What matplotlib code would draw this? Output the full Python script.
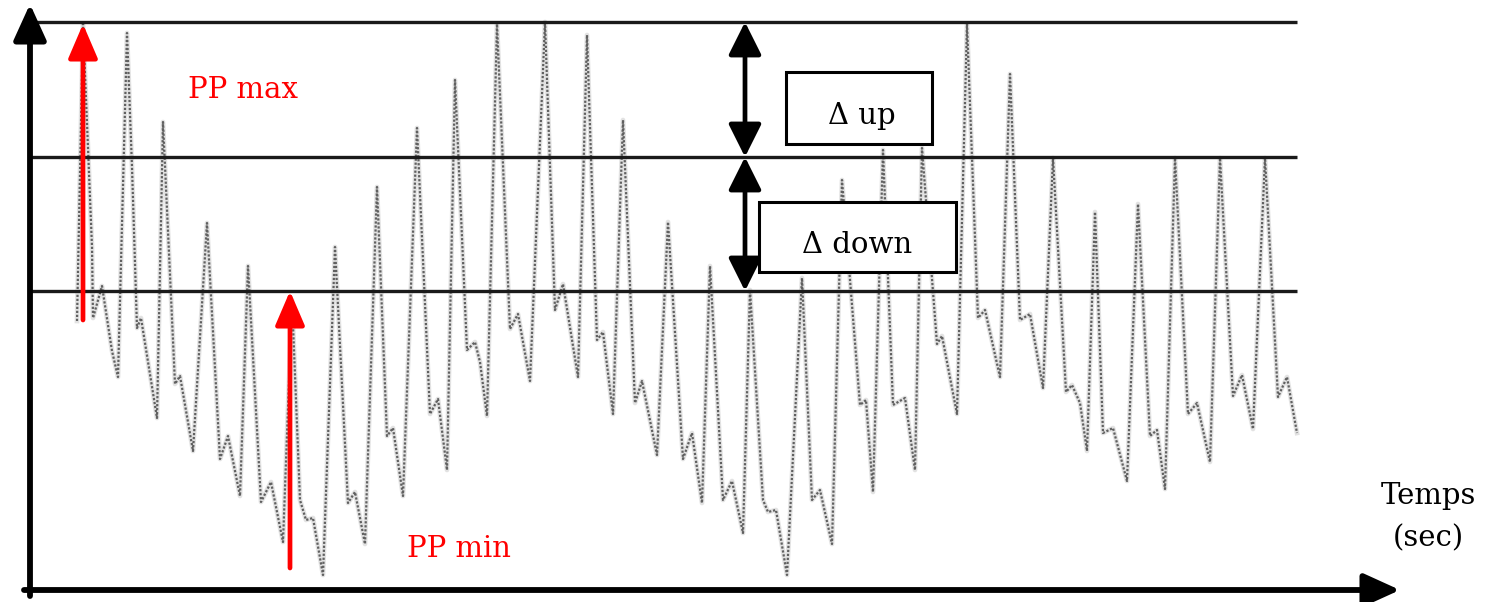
import matplotlib
matplotlib.use("Agg")
import matplotlib.pyplot as plt
from matplotlib.patches import Rectangle

# pressure trace vertices: time (x 10 ms from the origin), pressure (arbitrary units)
wave_t = [47, 53, 62, 63, 72, 82, 88,
          97, 102, 107, 111, 127,
          133, 145, 150, 163,
          177, 190, 198, 210,
          218, 231, 241, 253,
          262, 270, 276, 283, 293,
          305, 318, 325, 335,
          347, 357, 363, 373,
          387, 400, 408, 417,
          425, 437, 445, 450, 457,
          467, 480, 488, 500,
          515, 525, 533, 548,
          557, 567, 573, 583,
          593, 605, 612, 627,
          638, 653, 662, 672,
          680, 693, 702, 713,
          720, 733, 738, 746, 757,
          772, 782, 790, 802,
          812, 830, 836, 843,
          853, 863, 875, 885,
          892, 907, 912, 927,
          937, 948, 955, 970,
          980, 990, 1000, 1013,
          1023, 1036, 1042, 1050, 1057,
          1065, 1073, 1083, 1097,
          1108, 1120, 1127, 1135,
          1145, 1158, 1167, 1180,
          1190, 1203, 1212, 1223,
          1235, 1248, 1257, 1267]
wave_p = [269, 566, 343, 272, 304, 239, 213,
          557, 423, 262, 272, 172,
          468, 206, 214, 139,
          367, 131, 154, 94,
          324, 88, 108, 48,
          290, 90, 70, 72, 15,
          343, 87, 98, 46,
          403, 154, 162, 94,
          462, 176, 191, 120,
          510, 240, 248, 228, 174,
          566, 261, 276, 209,
          568, 280, 306, 213,
          555, 250, 258, 176,
          470, 187, 209, 135,
          368, 131, 157, 87,
          324, 90, 109, 57,
          300, 90, 78, 80, 15,
          312, 90, 100, 46,
          410, 185, 190, 98,
          440, 185, 192, 120,
          442, 246, 254, 176,
          566, 272, 280, 213,
          516, 270, 276, 202,
          432, 198, 205, 187, 139,
          378, 157, 162, 109,
          386, 154, 160, 101,
          432, 176, 187, 128,
          432, 194, 215, 161,
          432, 193, 213, 157]

# reference levels
level_names = ["PP max", "moyenne", "PP min"]
level_p = [568, 433, 299]
level_t_end = 1267

fig = plt.figure(figsize=(14.85, 6.02), dpi=100)
ax = fig.add_axes([0, 0, 1, 1])
ax.set_xlim(-30, 1455)
ax.set_ylim(-12, 590)
ax.axis("off")

serif = "DejaVu Serif"
fs = 21

# waveform (dotted grey trace)
ax.plot(wave_t, wave_p, color="#d0d0d0", lw=3.4, alpha=0.6, solid_joinstyle="round")
ax.plot(wave_t, wave_p, color="#606060", lw=1.6, linestyle=(0, (1, 0.8)))

# horizontal reference lines
for p in level_p:
    ax.plot([0, level_t_end], [p, p], color="#1a1a1a", lw=2.4, solid_capstyle="butt")

# axes arrows
ax.annotate("", xy=(0, 586), xytext=(0, -6),
            arrowprops=dict(arrowstyle="-|>,head_length=1.1,head_width=0.5",
                            color="black", lw=4.2, shrinkA=0, shrinkB=0, mutation_scale=20))
ax.annotate("", xy=(1370, 0), xytext=(-6, 0),
            arrowprops=dict(arrowstyle="-|>,head_length=1.1,head_width=0.5",
                            color="black", lw=4.2, shrinkA=0, shrinkB=0, mutation_scale=20))

# red arrows PP max / PP min
red_style = "-|>,head_length=1.05,head_width=0.45"
ax.annotate("", xy=(53, 566), xytext=(53, 270),
            arrowprops=dict(arrowstyle=red_style, color="red", lw=3.4,
                            shrinkA=0, shrinkB=0, mutation_scale=20))
ax.annotate("", xy=(260, 299), xytext=(260, 22),
            arrowprops=dict(arrowstyle=red_style, color="red", lw=3.4,
                            shrinkA=0, shrinkB=0, mutation_scale=20))
ax.text(158, 492, "PP max", color="red", fontsize=fs, family=serif, va="baseline", ha="left")
ax.text(377, 33, "PP min", color="red", fontsize=fs, family=serif, va="baseline", ha="left")

# delta arrows
d_style = "<|-|>,head_length=1.0,head_width=0.5"
ax.annotate("", xy=(715, level_p[0]), xytext=(715, level_p[1]),
            arrowprops=dict(arrowstyle=d_style, color="black", lw=3.4,
                            shrinkA=0, shrinkB=0, mutation_scale=20))
ax.annotate("", xy=(715, level_p[1]), xytext=(715, level_p[2]),
            arrowprops=dict(arrowstyle=d_style, color="black", lw=3.4,
                            shrinkA=0, shrinkB=0, mutation_scale=20))

# labelled boxes
ax.add_patch(Rectangle((756, 446), 146, 72, facecolor="white", edgecolor="black", lw=2.2, zorder=3))
ax.add_patch(Rectangle((729, 318), 197, 70, facecolor="white", edgecolor="black", lw=2.2, zorder=3))
ax.text(832, 466, "\u0394 up", fontsize=fs, family=serif, ha="center", va="baseline", zorder=4)
ax.text(827, 337, "\u0394 down", fontsize=fs, family=serif, ha="center", va="baseline", zorder=4)

# x axis label
ax.text(1398, 86, "Temps", fontsize=fs, family=serif, ha="center", va="baseline")
ax.text(1398, 44, "(sec)", fontsize=fs, family=serif, ha="center", va="baseline")

fig.savefig("out.png", dpi=100, facecolor="white")
